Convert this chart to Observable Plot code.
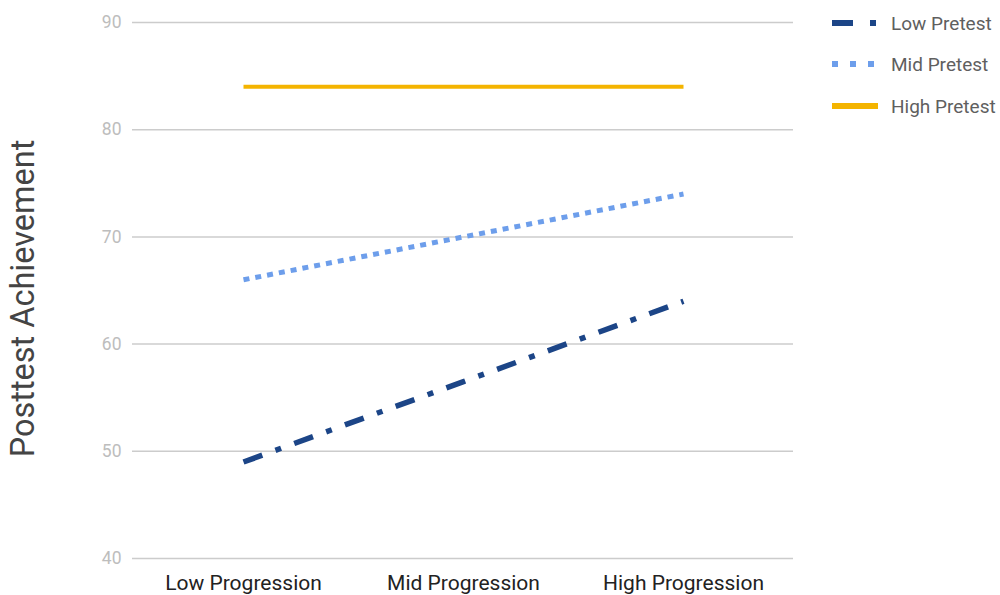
<!DOCTYPE html>
<html>
<head>
<meta charset="utf-8">
<script src="https://cdn.jsdelivr.net/npm/d3@7"></script>
<script src="https://cdn.jsdelivr.net/npm/@observablehq/plot@0.6"></script>
<style>
  html, body { margin: 0; padding: 0; background: #fff; }
  body { font-family: Roboto, "Noto Sans", sans-serif; }
  #wrap { position: relative; width: 1000px; height: 595px; }
  #legend { position: absolute; left: 832px; top: 0; }
  .item { position: absolute; left: 0; height: 20px; display: flex; align-items: center; white-space: nowrap; }
  .item span { margin-left: 13px; font-size: 19px; color: #5f5f5f; }
</style>
</head>
<body>
<div id="wrap"><div id="legend"></div></div>
<script>
// Categories along the x axis
const progression = ["Low Progression", "Mid Progression", "High Progression"];

// Posttest achievement by pretest group
const lowPretest  = [49, 56.5, 64];
const midPretest  = [66, 70, 74];
const highPretest = [84, 84, 84];

const seriesNames = ["Low Pretest", "Mid Pretest", "High Pretest"];
const seriesValues = [lowPretest, midPretest, highPretest];
const seriesColors = ["#1c4587", "#6d9eeb", "#f4b400"];
const seriesDash = ["20 14 6 14", "6 6", null];
const seriesWidth = [5.5, 5, 4];

const yTicks = [40, 50, 60, 70, 80, 90];

// Long table: one row per point
const rows = seriesNames.flatMap((name, i) =>
  progression.map((p, j) => ({series: name, progression: p, value: seriesValues[i][j]}))
);

const lineMarks = seriesNames.map((name, i) =>
  Plot.line(rows.filter(d => d.series === name), {
    x: "progression",
    y: "value",
    stroke: seriesColors[i],
    strokeWidth: seriesWidth[i],
    strokeDasharray: seriesDash[i] ?? undefined,
    strokeLinecap: "butt"
  })
);

const chart = Plot.plot({
  width: 1000,
  height: 595,
  marginLeft: 132,
  marginRight: 207,
  marginTop: 22,
  marginBottom: 37,
  style: {fontFamily: "Roboto, sans-serif", background: "transparent"},
  x: {type: "point", domain: progression, padding: 0.5, label: null},
  y: {domain: [40, 90], label: null},
  marks: [
    Plot.gridY(yTicks, {stroke: "#cccccc", strokeOpacity: 1, strokeWidth: 1.5}),
    Plot.axisY(yTicks, {tickSize: 0, tickPadding: 11, fontSize: 17.5, color: "#bdbdbd", label: null}),
    Plot.axisX({tickSize: 0, tickPadding: 17, fontSize: 21, color: "#222", label: null}),
    Plot.text(["Posttest Achievement"], {
      frameAnchor: "left", dx: -109, dy: 8, rotate: -90,
      fontSize: 32.5, fill: "#444", textAnchor: "middle"
    }),
    ...lineMarks
  ]
});

document.getElementById("wrap").prepend(chart);

// Legend: line sample + name for each series
const legend = d3.select("#legend");
const legendY = [13, 54, 96];
seriesNames.forEach((name, i) => {
  const item = legend.append("div").attr("class", "item").style("top", legendY[i] + "px");
  const svg = item.append("svg").attr("width", 46).attr("height", 20);
  const ln = svg.append("line")
    .attr("x1", 0).attr("x2", 46).attr("y1", 10).attr("y2", 10)
    .attr("stroke", seriesColors[i])
    .attr("stroke-width", 6);
  if (i === 0) ln.attr("stroke-dasharray", "21 17 6 20");
  if (i === 1) ln.attr("stroke-dasharray", "6 12");
  item.append("span").text(name);
});
</script>
</body>
</html>
